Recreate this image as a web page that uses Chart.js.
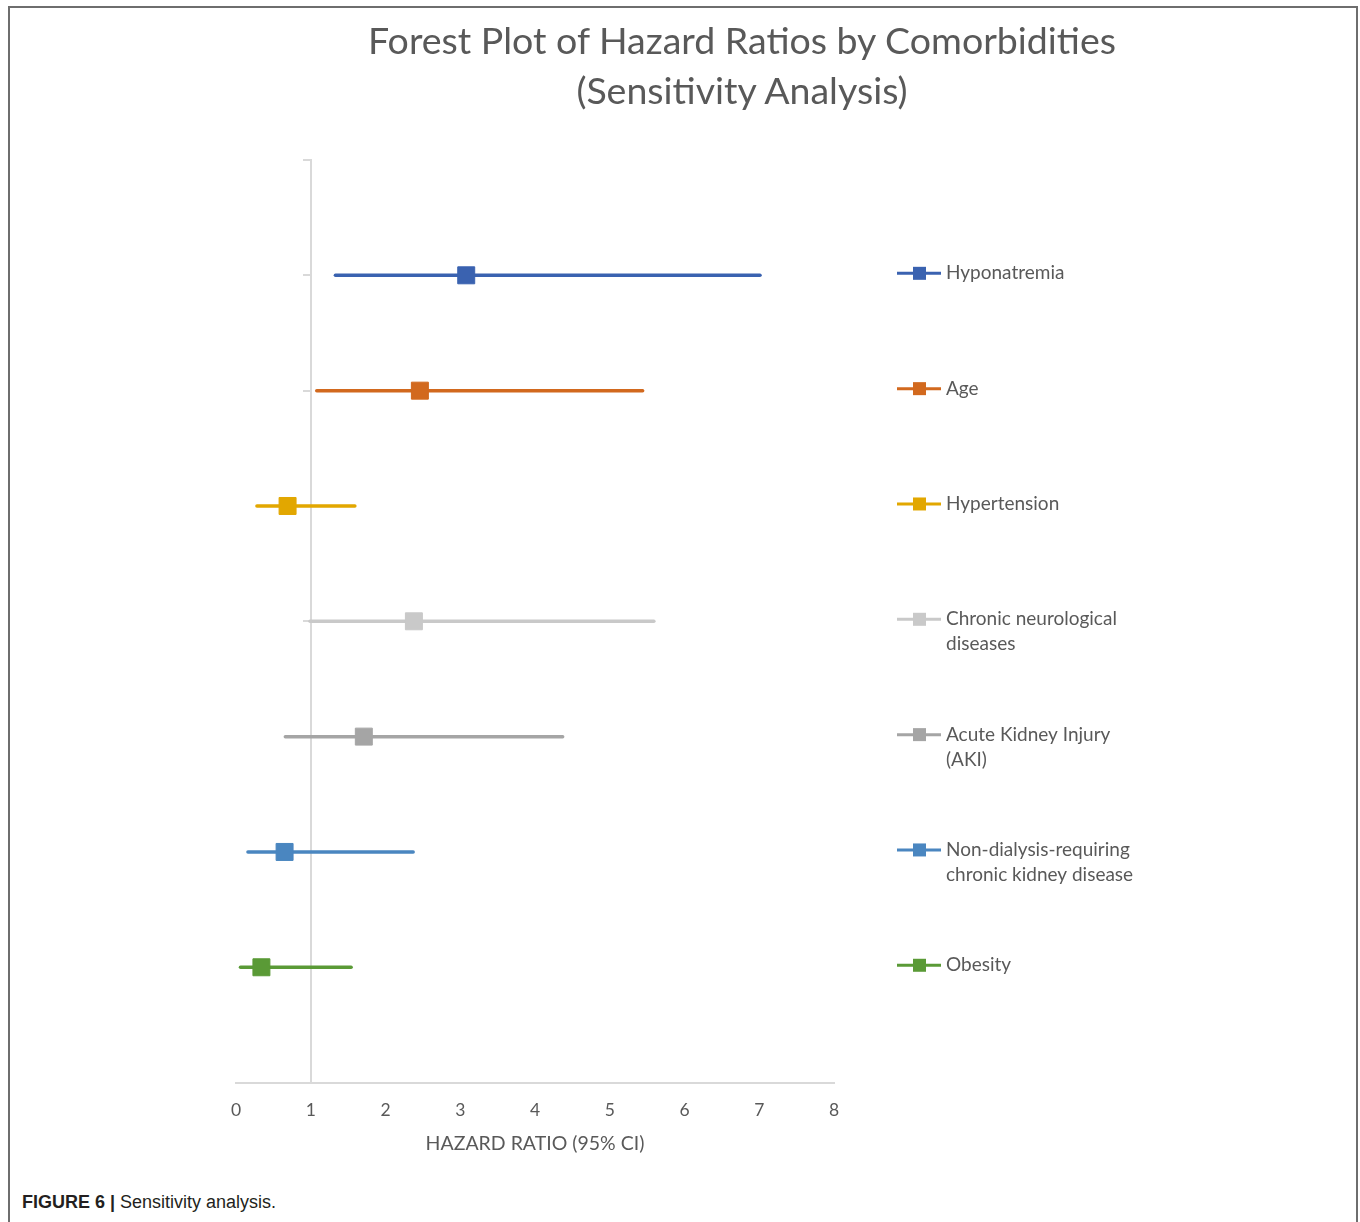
<!DOCTYPE html>
<html>
<head>
<meta charset="utf-8">
<script src="https://cdn.jsdelivr.net/npm/chart.js@4/dist/chart.umd.min.js"></script>
<style>
  html, body { margin: 0; padding: 0; background: #fff; }
  body { width: 1360px; height: 1222px; position: relative; overflow: hidden; }
  #frame { position: absolute; left: 8px; top: 6px; width: 1346px; height: 1260px; border: 2px solid #6e6e6e; }
  #title { position: absolute; left: 0; top: 15px; width: 1484px; text-align: center; font: 37.5px Lato, sans-serif; line-height: 50px; color: #595959; }
  #wrap { position: absolute; left: 0; top: 0; width: 1360px; height: 1180px; }
  #caption { position: absolute; left: 22px; top: 1192px; font: 18px "Liberation Sans", Arial, sans-serif; color: #231f20; }
</style>
</head>
<body>
<div id="frame"></div>
<div id="wrap"><canvas id="forestChart"></canvas></div>
<div id="title">Forest Plot of Hazard Ratios by Comorbidities<br>(Sensitivity Analysis)</div>
<div id="caption"><b>FIGURE 6 |</b> Sensitivity analysis.</div>
<script>
const comorbidities = [
  ["Hyponatremia"],
  ["Age"],
  ["Hypertension"],
  ["Chronic neurological", "diseases"],
  ["Acute Kidney Injury", "(AKI)"],
  ["Non-dialysis-requiring", "chronic kidney disease"],
  ["Obesity"]
];
const rowPositions = [7, 6, 5, 4, 3, 2, 1];
const hazardRatios = [3.08, 2.46, 0.69, 2.38, 1.71, 0.65, 0.34];
const lowerCI = [1.33, 1.08, 0.28, 0.99, 0.66, 0.16, 0.06];
const upperCI = [7.01, 5.44, 1.59, 5.59, 4.37, 2.37, 1.54];
const xTicks = [0, 1, 2, 3, 4, 5, 6, 7, 8];
const colors = ["#3a62b0", "#d2691e", "#e2a700", "#c9c9c9", "#a5a5a5", "#4a86c0", "#5a9a36"];

const textColor = "#595959";
const axisColor = "#d9d9d9";

// legend drawn next to each row, like the Excel original
const rowLegend = {
  id: "rowLegend",
  afterDraw(chart) {
    const { ctx } = chart;
    const yScale = chart.scales.y;
    ctx.save();
    ctx.font = "19px Lato, sans-serif";
    ctx.textBaseline = "middle";
    comorbidities.forEach((lines, i) => {
      const y = yScale.getPixelForValue(rowPositions[i]) - 2;
      ctx.strokeStyle = colors[i];
      ctx.lineWidth = 3;
      ctx.beginPath();
      ctx.moveTo(897, y);
      ctx.lineTo(941, y);
      ctx.stroke();
      ctx.fillStyle = colors[i];
      ctx.fillRect(913, y - 6.5, 13, 13);
      ctx.fillStyle = textColor;
      lines.forEach((t, k) => ctx.fillText(t, 946, y + k * 25));
    });
    ctx.restore();
  }
};

const datasets = comorbidities.map((lines, i) => ({
  label: lines.join(" "),
  data: [
    { x: lowerCI[i], y: rowPositions[i] },
    { x: hazardRatios[i], y: rowPositions[i] },
    { x: upperCI[i], y: rowPositions[i] }
  ],
  showLine: true,
  borderColor: colors[i],
  backgroundColor: colors[i],
  borderWidth: 3.5,
  borderCapStyle: "round",
  pointStyle: "rect",
  pointRadius: [0, 12, 0],
  pointBorderWidth: 1,
  pointBorderColor: colors[i],
  pointBackgroundColor: colors[i]
}));

new Chart(document.getElementById("forestChart"), {
  type: "scatter",
  data: { datasets },
  options: {
    responsive: true,
    maintainAspectRatio: false,
    animation: false,
    events: [],
    layout: { padding: { left: 236, right: 526, top: 160, bottom: 21 } },
    plugins: { legend: { display: false }, title: { display: false }, tooltip: { enabled: false } },
    scales: {
      x: {
        type: "linear",
        position: "bottom",
        min: 0,
        max: 8,
        afterBuildTicks: s => { s.ticks = xTicks.map(v => ({ value: v })); },
        ticks: { color: textColor, font: { family: "Lato", size: 17.5 }, padding: 17 },
        grid: { drawOnChartArea: false, drawTicks: false },
        border: { color: axisColor, width: 2 },
        title: { display: true, text: "HAZARD RATIO (95% CI)", color: textColor, font: { family: "Lato", size: 19.5 }, padding: { top: -6, bottom: 4 } }
      },
      y: {
        type: "linear",
        position: { x: 1 },
        min: 0,
        max: 8,
        ticks: { display: false, stepSize: 1 },
        grid: { drawOnChartArea: false, tickLength: 7, color: axisColor, lineWidth: 2 },
        border: { color: axisColor, width: 2 }
      }
    }
  },
  plugins: [rowLegend]
});
</script>
</body>
</html>
